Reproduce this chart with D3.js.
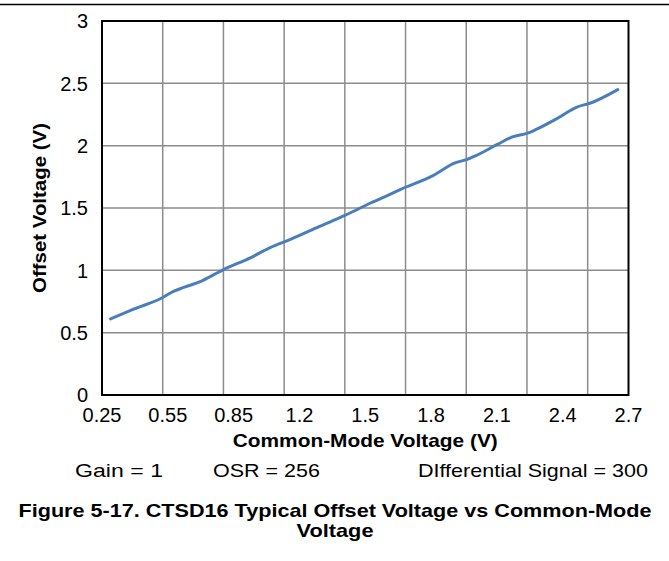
<!DOCTYPE html>
<meta charset="utf-8">
<style>
  body { margin: 0; background: #fff; }
  text { font-family: "Liberation Sans", Arial, sans-serif; fill: #000; }
</style>
<body>
<script src="https://cdn.jsdelivr.net/npm/d3@7"></script>
<script>

// Common-mode voltage (V) and offset voltage (V)
var cmVoltage = [0.29, 0.40, 0.53, 0.57, 0.72, 0.82, 0.94, 1.03, 1.13, 1.26, 1.38, 1.50, 1.59, 1.64,
                 1.79, 1.89, 1.95, 1.99, 2.09, 2.16, 2.23, 2.27, 2.37, 2.46, 2.52, 2.65];
var offsetVoltage = [0.61, 0.69, 0.78, 0.82, 0.92, 1.01, 1.10, 1.18, 1.25, 1.35, 1.44, 1.54, 1.61, 1.65,
                     1.76, 1.86, 1.89, 1.92, 2.01, 2.07, 2.10, 2.13, 2.22, 2.31, 2.34, 2.45];

var xTickLabels = ["0.25", "0.55", "0.85", "1.2", "1.5", "1.8", "2.1", "2.4", "2.7"];
var yTicks = [0, 0.5, 1, 1.5, 2, 2.5, 3];
var notes = ["Gain = 1", "OSR = 256", "DIfferential Signal = 300"];

var W = 669, H = 561;
var margin = {top: 21, right: 40.5, bottom: 166, left: 102},
    width = W - margin.left - margin.right,
    height = H - margin.top - margin.bottom;

var svg = d3.select("body").append("svg")
    .attr("width", W)
    .attr("height", H);

// thin rule across the top of the page
svg.append("line")
    .attr("x1", 0).attr("x2", W)
    .attr("y1", 4.5).attr("y2", 4.5)
    .attr("stroke", "#000")
    .attr("stroke-width", 1.5);

var x = d3.scaleLinear().domain([0.25, 2.7]).range([0, width]),
    y = d3.scaleLinear().domain([0, 3]).range([height, 0]);

// vertical gridlines are not on the labels in the original chart
var gridStep = 0.2825;
var xGrid = d3.range(1, 9).map(function(k) { return 0.25 + k * gridStep; });
// labels are spread evenly from end to end
var xLabelPos = d3.scalePoint().domain(xTickLabels).range([0, width]);

var g = svg.append("g")
    .attr("transform", "translate(" + margin.left + "," + margin.top + ")");

g.selectAll(".gx")
  .data(xGrid)
  .enter().append("line")
    .attr("class", "gx")
    .attr("x1", d => x(d)).attr("x2", d => x(d))
    .attr("y1", 0).attr("y2", height)
    .attr("stroke", "#8c8c8c")
    .attr("stroke-width", 1.5);

g.selectAll(".gy")
  .data(yTicks.slice(1, -1))
  .enter().append("line")
    .attr("class", "gy")
    .attr("x1", 0).attr("x2", width)
    .attr("y1", d => y(d)).attr("y2", d => y(d))
    .attr("stroke", "#8c8c8c")
    .attr("stroke-width", 1.5);

var line = d3.line()
    .x(function(d, i) { return x(cmVoltage[i]); })
    .y(function(d) { return y(d); })
    .curve(d3.curveMonotoneX);

g.append("path")
    .datum(offsetVoltage)
    .attr("d", line)
    .attr("fill", "none")
    .attr("stroke", "#4a7ebb")
    .attr("stroke-width", 3)
    .attr("stroke-linecap", "round");

g.append("rect")
    .attr("width", width)
    .attr("height", height)
    .attr("fill", "none")
    .attr("stroke", "#000")
    .attr("stroke-width", 2);

// y tick labels
g.selectAll(".ty")
  .data(yTicks)
  .enter().append("text")
    .attr("class", "ty")
    .attr("x", -14)
    .attr("y", d => y(d))
    .attr("dy", "0.36em")
    .attr("text-anchor", "end")
    .style("font-size", "20px")
    .text(d => d);

// x tick labels
g.selectAll(".tx")
  .data(xTickLabels)
  .enter().append("text")
    .attr("class", "tx")
    .attr("x", d => xLabelPos(d))
    .attr("y", height + 27)
    .attr("text-anchor", "middle")
    .style("font-size", "20px")
    .text(d => d);

g.append("text")
    .attr("x", width / 2)
    .attr("y", height + 52)
    .attr("text-anchor", "middle")
    .attr("textLength", 265)
    .attr("lengthAdjust", "spacingAndGlyphs")
    .style("font-size", "19px")
    .style("font-weight", "bold")
    .text("Common-Mode Voltage (V)");

g.append("text")
    .attr("transform", "translate(" + (-56) + "," + (height / 2) + ") rotate(-90)")
    .attr("text-anchor", "middle")
    .attr("textLength", 170)
    .attr("lengthAdjust", "spacingAndGlyphs")
    .style("font-size", "19px")
    .style("font-weight", "bold")
    .text("Offset Voltage (V)");

// test conditions
var noteX = [75, 213, 418],
    noteW = [88, 107, 230];
svg.selectAll(".note")
  .data(notes)
  .enter().append("text")
    .attr("class", "note")
    .attr("x", (d, i) => noteX[i])
    .attr("y", 477)
    .attr("textLength", (d, i) => noteW[i])
    .attr("lengthAdjust", "spacingAndGlyphs")
    .style("font-size", "19px")
    .text(d => d);

// caption
var caption = svg.append("text")
    .attr("text-anchor", "middle")
    .style("font-size", "19px")
    .style("font-weight", "bold");
caption.append("tspan").attr("x", 335).attr("y", 517)
    .attr("textLength", 633)
    .attr("lengthAdjust", "spacingAndGlyphs")
    .text("Figure 5-17. CTSD16 Typical Offset Voltage vs Common-Mode");
caption.append("tspan").attr("x", 335).attr("y", 537)
    .attr("textLength", 77)
    .attr("lengthAdjust", "spacingAndGlyphs")
    .text("Voltage");

</script>
</body>
